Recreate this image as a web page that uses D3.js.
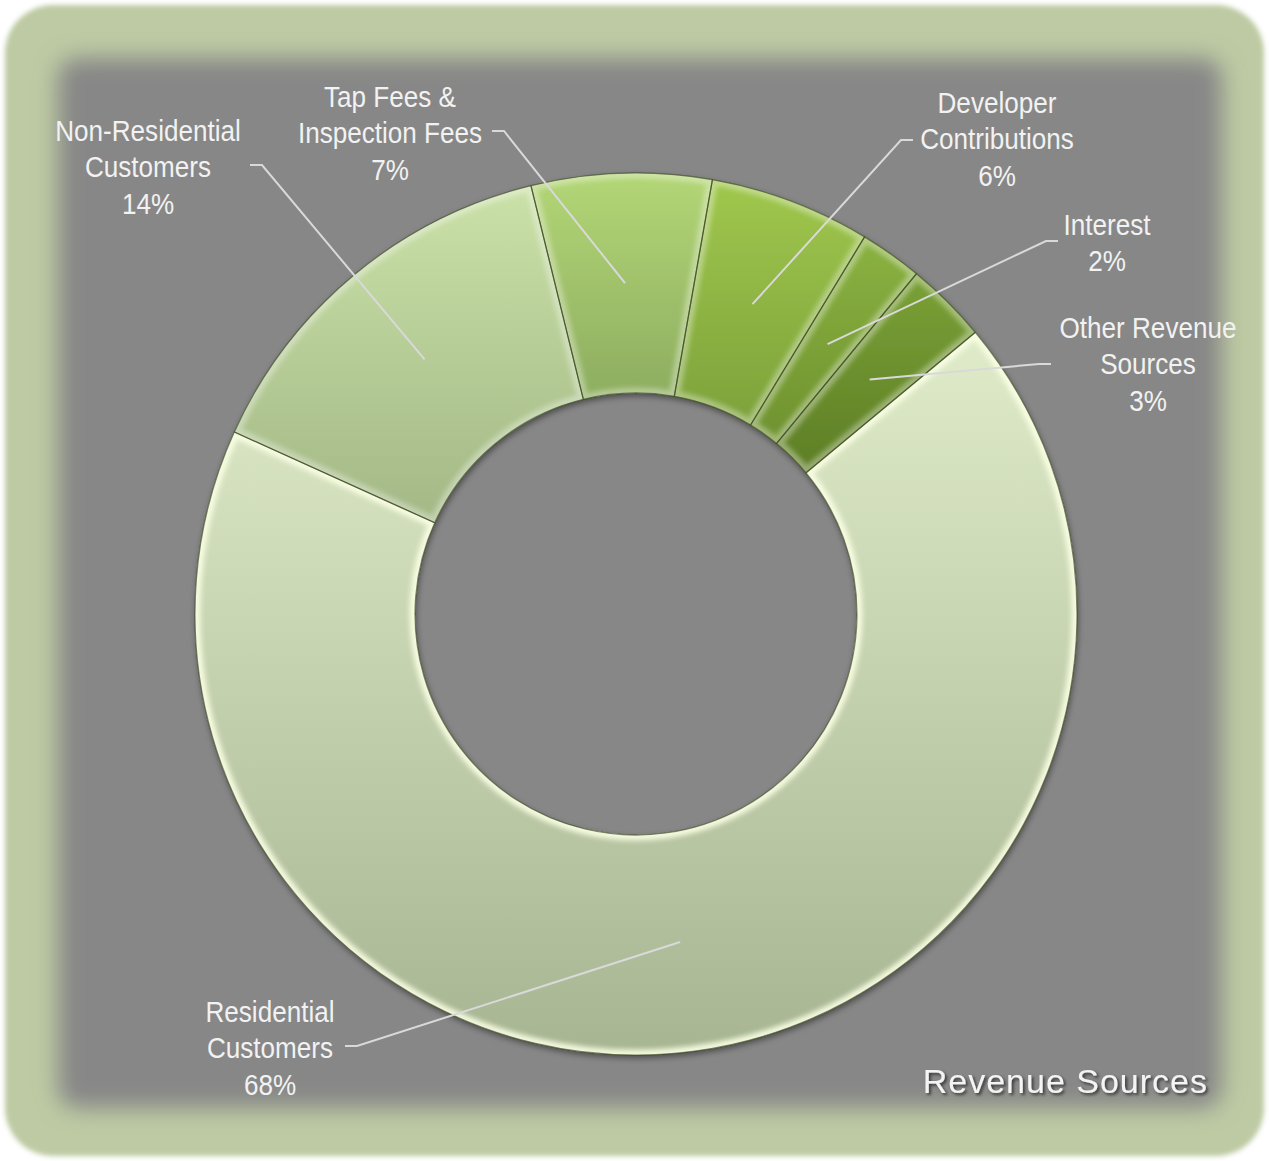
<!DOCTYPE html>
<html>
<head>
<meta charset="utf-8">
<script src="https://cdn.jsdelivr.net/npm/d3@7"></script>
<style>
  html, body { margin: 0; padding: 0; background: #ffffff; }
  svg { display: block; }
</style>
</head>
<body>
<div id="vis"></div>
<script>
const width = 1269;
const height = 1161;

// data
const categories = ['Residential Customers', 'Non-Residential Customers', 'Tap Fees & Inspection Fees',
  'Developer Contributions', 'Interest', 'Other Revenue Sources'];
const labelLines = [['Residential', 'Customers'], ['Non-Residential', 'Customers'], ['Tap Fees &', 'Inspection Fees'],
  ['Developer', 'Contributions'], ['Interest'], ['Other Revenue', 'Sources']];
const shares = [67.8, 14.4, 6.6, 5.9, 2.3, 3.0];
const title = 'Revenue Sources';

// slice colours, top and bottom of the gradient
const topColors = ['#e0ecc9', '#cae1a8', '#b3d676', '#a0c74d', '#8ab241', '#7aa136'];
const bottomColors = ['#a7b592', '#a3b886', '#8dad60', '#7da23b', '#6f922f', '#5e7e26'];

// label layout: center x, first baseline, elbow of leader line
const labelLayout = [
  { x: 270, y: 1022, lx: 345, ly: 1046, side: 'left' },
  { x: 148, y: 141, lx: 250, ly: 165, side: 'left' },
  { x: 390, y: 107, lx: 492, ly: 131, side: 'left' },
  { x: 997, y: 113, lx: 913, ly: 140, side: 'right' },
  { x: 1107, y: 235, lx: 1058, ly: 241, side: 'right' },
  { x: 1148, y: 338, lx: 1051, ly: 364, side: 'right' }
];

const cx = 636, cy = 614;
const outerR = 441, innerR = 221;
const startAngle = 50.3 * Math.PI / 180;

const svg = d3.select('#vis').append('svg')
  .attr('width', width)
  .attr('height', height);

const defs = svg.append('defs');

defs.append('filter').attr('id', 'soft')
  .attr('x', '-5%').attr('y', '-5%').attr('width', '110%').attr('height', '110%')
  .append('feGaussianBlur').attr('stdDeviation', 2.5);

defs.append('filter').attr('id', 'grayBlur')
  .attr('x', '-10%').attr('y', '-10%').attr('width', '120%').attr('height', '120%')
  .append('feGaussianBlur').attr('stdDeviation', 11);

defs.append('filter').attr('id', 'edgeBlur')
  .attr('x', '-20%').attr('y', '-20%').attr('width', '140%').attr('height', '140%')
  .append('feGaussianBlur').attr('stdDeviation', 2.5);

const shadow = defs.append('filter').attr('id', 'donutShadow')
  .attr('x', '-10%').attr('y', '-10%').attr('width', '120%').attr('height', '120%');
shadow.append('feDropShadow')
  .attr('dx', 1).attr('dy', 3).attr('stdDeviation', 3)
  .attr('flood-color', '#000').attr('flood-opacity', 0.45);

const textShadow = defs.append('filter').attr('id', 'textShadow')
  .attr('x', '-10%').attr('y', '-30%').attr('width', '120%').attr('height', '160%');
textShadow.append('feDropShadow')
  .attr('dx', 2).attr('dy', 2).attr('stdDeviation', 1.5)
  .attr('flood-color', '#000').attr('flood-opacity', 0.6);

shares.forEach((d, i) => {
  const g = defs.append('linearGradient')
    .attr('id', 'grad' + i)
    .attr('x1', 0).attr('y1', 0).attr('x2', 0).attr('y2', 1);
  g.append('stop').attr('offset', '0%').attr('stop-color', topColors[i]);
  g.append('stop').attr('offset', '100%').attr('stop-color', bottomColors[i]);
});

// frame
svg.append('rect')
  .attr('x', 5).attr('y', 5)
  .attr('width', width - 10).attr('height', height - 10)
  .attr('rx', 48)
  .attr('fill', '#bdcaa3')
  .attr('filter', 'url(#soft)');

svg.append('rect')
  .attr('x', 58).attr('y', 58)
  .attr('width', 1164).attr('height', 1050)
  .attr('rx', 20)
  .attr('fill', '#878787')
  .attr('filter', 'url(#grayBlur)');

// donut
const pie = d3.pie()
  .sort(null)
  .value(d => d)
  .startAngle(startAngle)
  .endAngle(startAngle + 2 * Math.PI);

const arc = d3.arc()
  .innerRadius(innerR)
  .outerRadius(outerR);

const arcs = pie(shares);

const donut = svg.append('g')
  .attr('transform', `translate(${cx},${cy})`);

const sliceGroup = donut.append('g').attr('filter', 'url(#donutShadow)');

sliceGroup.selectAll('path.slice')
  .data(arcs)
  .enter().append('path')
  .attr('class', 'slice')
  .attr('d', arc)
  .attr('fill', (d, i) => `url(#grad${i})`);

// bevel: soft inner highlight on each slice
arcs.forEach((d, i) => {
  defs.append('clipPath').attr('id', 'clip' + i)
    .append('path').attr('d', arc(d));
});

donut.append('g').selectAll('path.bevel')
  .data(arcs)
  .enter().append('path')
  .attr('class', 'bevel')
  .attr('d', arc)
  .attr('clip-path', (d, i) => `url(#clip${i})`)
  .attr('fill', 'none')
  .attr('stroke', (d, i) => i === 0 ? '#fbffe6' : '#ffffff')
  .attr('stroke-opacity', (d, i) => i === 0 ? 0.9 : 0.35)
  .attr('stroke-width', 11)
  .attr('filter', 'url(#edgeBlur)');

donut.append('g').selectAll('path.edge')
  .data(arcs)
  .enter().append('path')
  .attr('class', 'edge')
  .attr('d', arc)
  .attr('fill', 'none')
  .attr('stroke', '#3c4a22')
  .attr('stroke-opacity', 0.65)
  .attr('stroke-width', 1.2);

// leader lines
const leaders = svg.append('g');
arcs.forEach((d, i) => {
  const c = arc.centroid(d);
  const p = labelLayout[i];
  const stub = p.side === 'left' ? 12 : -12;
  leaders.append('polyline')
    .attr('points', [[p.lx, p.ly], [p.lx + stub, p.ly], [cx + c[0], cy + c[1]]].map(q => q.join(',')).join(' '))
    .attr('fill', 'none')
    .attr('stroke', '#d9d9d9')
    .attr('stroke-width', 2);
});

// labels
const labels = svg.append('g');
arcs.forEach((d, i) => {
  const p = labelLayout[i];
  const lines = labelLines[i].concat([Math.round(shares[i]) + '%']);
  const g = labels.append('g')
    .attr('transform', `translate(${p.x},${p.y}) scale(0.9,1)`);
  lines.forEach((t, j) => {
    g.append('text')
      .attr('x', 0)
      .attr('y', j * 36.5)
      .attr('text-anchor', 'middle')
      .attr('font-family', '"Liberation Sans", Arial, sans-serif')
      .attr('font-size', 29)
      .attr('fill', '#f2f2f2')
      .text(t);
  });
});

// title
svg.append('text')
  .attr('x', 1208)
  .attr('y', 1093)
  .attr('text-anchor', 'end')
  .attr('font-family', '"Liberation Sans", Arial, sans-serif')
  .attr('font-size', 34)
  .attr('letter-spacing', 1)
  .attr('fill', '#f4f4f4')
  .attr('filter', 'url(#textShadow)')
  .text(title);
</script>
</body>
</html>
